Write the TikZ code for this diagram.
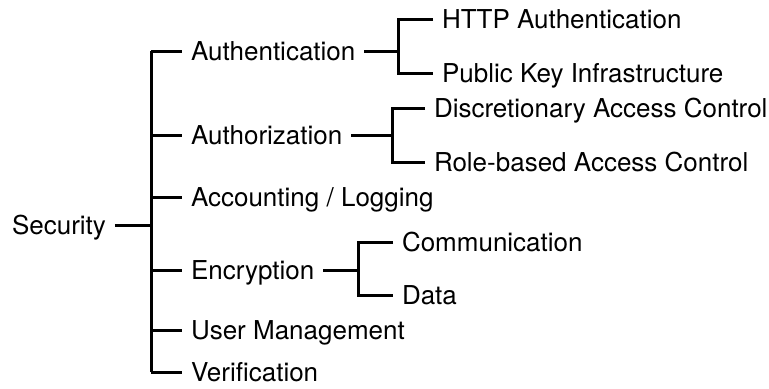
\documentclass[tikz,border=0pt]{standalone}
\usepackage{fontspec}
\setmainfont{TeX Gyre Heros}
\usetikzlibrary{positioning}

\begin{document}
\begin{tikzpicture}[
        x=0.5pt, y=-0.5pt,
        item/.style={anchor=west, inner sep=0pt, outer xsep=4.5pt, text height=9.3pt, text depth=0pt, font=\fontsize{13}{15}\selectfont},
        tree/.style={line width=1.5pt}]
        \useasboundingbox (0,0) rectangle (769,388);
        % root and first level
        \node[item] (sec) at (3,225) {Security};
        \node[item] (auth) at (182,51) {Authentication};
        \node[item] (authz) at (182,135) {Authorization};
        \node[item] (acct) at (182,197) {Accounting / Logging};
        \node[item] (enc) at (182,270) {Encryption};
        \node[item] (user) at (182,330) {User Management};
        \node[item] (verif) at (182,372) {Verification};
        % second level
        \node[item] (http) at (433,19) {HTTP Authentication};
        \node[item] (pki) at (433,73) {Public Key Infrastructure};
        \node[item] (dac) at (425,108) {Discretionary Access Control};
        \node[item] (rbac) at (425,162) {Role-based Access Control};
        \node[item] (comm) at (393,242) {Communication};
        \node[item] (data) at (393,295) {Data};
        % junctions
        \coordinate (tSec) at (151,225);
        \coordinate (tAuth) at (398,51);
        \coordinate (tAuthz) at (392,135);
        \coordinate (tEnc) at (358,270);
        \draw[tree] (sec) -- (tSec);
        \draw[tree] (tSec |- auth) -- (tSec |- verif);
        \foreach \n in {auth, authz, acct, enc, user, verif}
            \draw[tree] (tSec |- \n) -- (\n);
        \draw[tree] (auth) -- (tAuth);
        \draw[tree] (http) -| (tAuth) |- (pki);
        \draw[tree] (authz) -- (tAuthz);
        \draw[tree] (dac) -| (tAuthz) |- (rbac);
        \draw[tree] (enc) -- (tEnc);
        \draw[tree] (comm) -| (tEnc) |- (data);
    \end{tikzpicture}
\end{document}
